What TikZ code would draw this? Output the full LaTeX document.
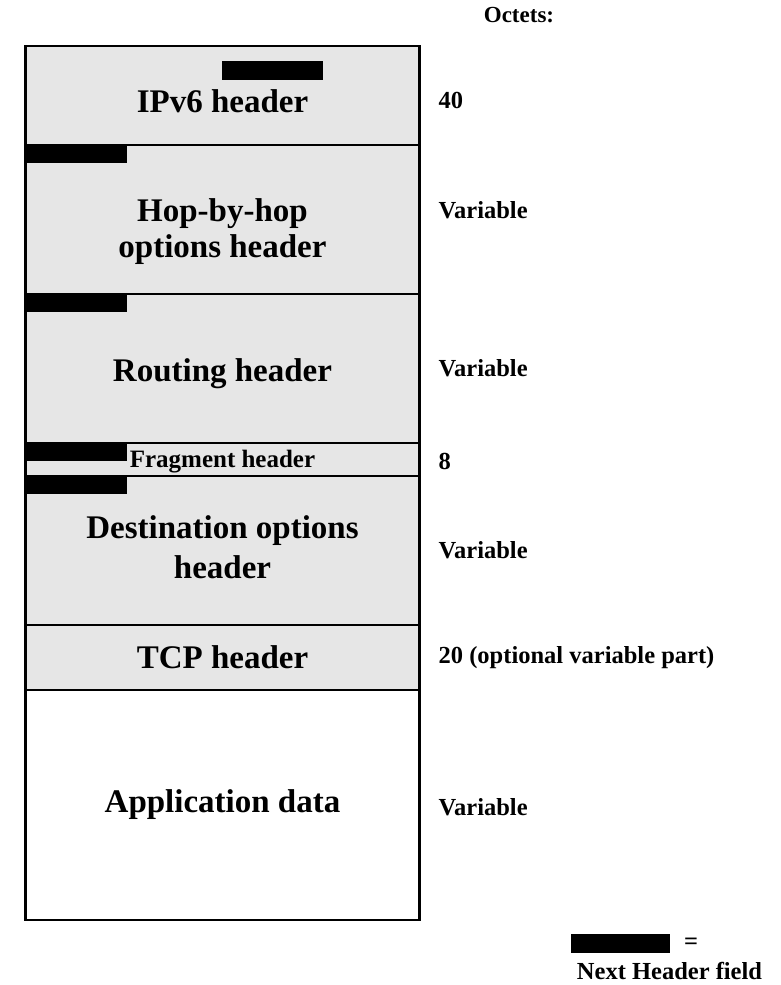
\documentclass[tikz,border=0pt]{standalone}
\usepackage{fontspec}
\setmainfont{Liberation Serif}
\usetikzlibrary{positioning}
\definecolor{hdrgray}{RGB}{230,230,230}

\begin{document}
\begin{tikzpicture}[x=1pt, y=-1pt,
    layer/.style={draw, line width=2.6pt, fill=hdrgray, outer sep=0pt, inner sep=0pt,
        minimum width=394pt, align=center, font=\bfseries\fontsize{33}{37}\selectfont},
    datalayer/.style={layer, fill=white},
    nhfield/.style={fill=black, inner sep=0pt, outer sep=0pt, minimum width=101pt, minimum height=18pt},
    octlbl/.style={inner sep=0pt, font=\bfseries\fontsize{24.5}{28}\selectfont}]
    \useasboundingbox (0,0) rectangle (781,985);

    % protocol stack
    \node[layer, minimum height=99pt, anchor=north, text height=34pt, text depth=0pt] (ipv6) at (222.5,46) {IPv6 header};
    \node[layer, minimum height=149pt, below=0pt of ipv6, text height=83pt] (hop) {Hop-by-hop\\[-1pt]options header};
    \node[layer, minimum height=149pt, below=0pt of hop, text height=33pt] (routing) {Routing header};
    \node[layer, minimum height=33pt, below=0pt of routing, text height=22pt, font=\bfseries\fontsize{25}{28}\selectfont] (frag) {Fragment header};
    \node[layer, minimum height=149pt, below=0pt of frag, text height=56pt] (dest) {Destination options\\[3pt]header};
    \node[layer, minimum height=65pt, below=0pt of dest] (tcp) {TCP header};
    \node[datalayer, minimum height=230pt, below=0pt of tcp] (appdata) {Application data};

    % next header fields
    \node[nhfield, anchor=north west, minimum height=19pt] (ipv6nh) at (222,61) {};
    \node[nhfield, anchor=north west] (hopnh) at (hop.north west) {};
    \node[nhfield, anchor=north west] (routingnh) at (routing.north west) {};
    \node[nhfield, anchor=north west] (fragnh) at (frag.north west) {};
    \node[nhfield, anchor=north west] (destnh) at (dest.north west) {};

    % sizes
    \node[octlbl, font=\bfseries\fontsize{23}{26}\selectfont] (octets) at (519,15) {Octets:};
    \node[octlbl, right=19pt of ipv6.east, yshift=-5pt] (ipv6len) {40};
    \node[octlbl, right=19pt of hop.east, yshift=9pt] (hoplen) {Variable};
    \node[octlbl, right=19pt of routing.east] (routinglen) {Variable};
    \node[octlbl, right=19pt of frag.east, yshift=-2pt] (fraglen) {8};
    \node[octlbl, right=19pt of dest.east] (destlen) {Variable};
    \node[octlbl, right=19pt of tcp.east] (tcplen) {20 (optional variable part)};
    \node[octlbl, right=19pt of appdata.east, yshift=-2pt] (applen) {Variable};

    % legend
    \node[nhfield, anchor=north west, minimum width=99pt, minimum height=19pt] (legendnh) at (571,934) {};
    \node[octlbl, right=14pt of legendnh] (legendeq) {=};
    \node[octlbl] (legendtxt) at (669.5,971) {Next Header field};
\end{tikzpicture}
\end{document}
